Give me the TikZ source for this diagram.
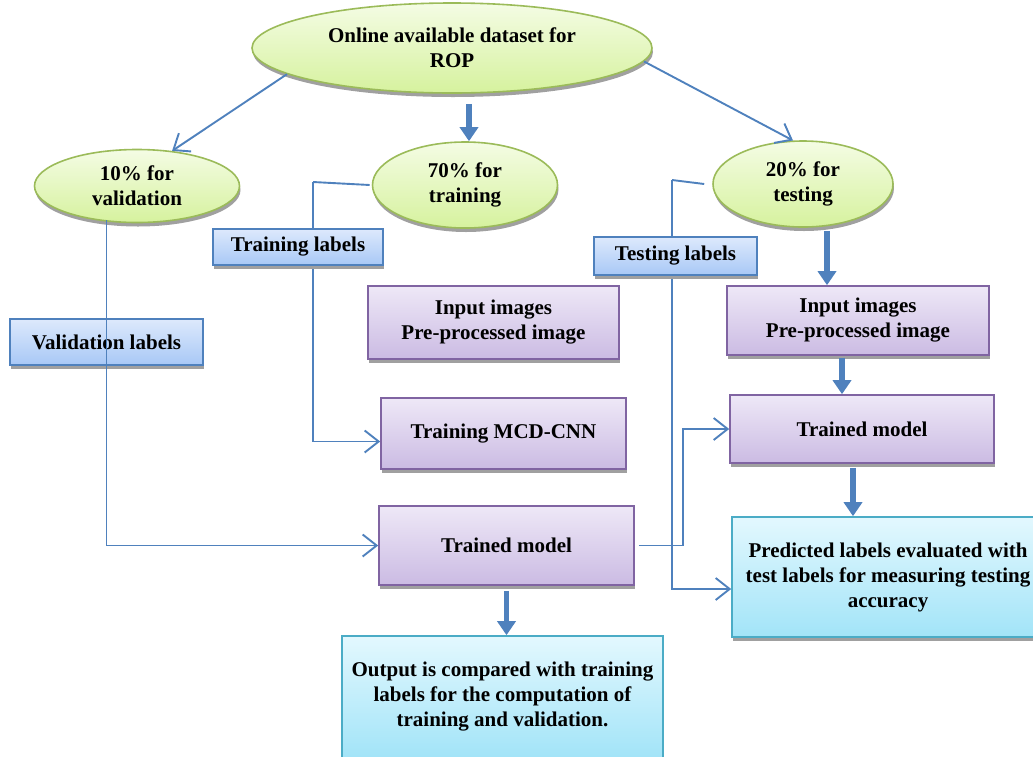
\documentclass[tikz,border=0pt]{standalone}
\usepackage{fontspec}
\setmainfont{Liberation Serif}
\usetikzlibrary{positioning,shapes.geometric,shadows,arrows.meta,backgrounds}
\definecolor{lineblue}{HTML}{4F81BD}
\definecolor{ovalline}{HTML}{9BBB59}
\definecolor{ovaltop}{HTML}{F4FCE4}
\definecolor{ovalbot}{HTML}{D6F29E}
\definecolor{purpline}{HTML}{8064A2}
\definecolor{purptop}{HTML}{EEE8F7}
\definecolor{purpbot}{HTML}{CBBBE3}
\definecolor{labtop}{HTML}{DDE9FC}
\definecolor{labbot}{HTML}{A8C8F6}
\definecolor{cyanline}{HTML}{4BACC6}
\definecolor{cyantop}{HTML}{E3F8FE}
\definecolor{cyanbot}{HTML}{A2E4F8}
\definecolor{shadowgray}{HTML}{A0A0A0}
\tikzset{
  every node/.style={font=\fontsize{21}{25}\selectfont\bfseries, align=center, inner sep=0pt},
  myshadow/.style={drop shadow={shadow xshift=1pt, shadow yshift=-4pt, fill=shadowgray, opacity=1}},
  oval/.style={ellipse, draw=ovalline, line width=1.6pt, top color=ovaltop, bottom color=ovalbot, myshadow},
  stepbox/.style={rectangle, draw=purpline, line width=1.6pt, top color=purptop, bottom color=purpbot, myshadow},
  labbox/.style={rectangle, draw=lineblue, line width=1.6pt, top color=labtop, bottom color=labbot, myshadow},
  outbox/.style={rectangle, draw=cyanline, line width=1.6pt, top color=cyantop, bottom color=cyanbot, myshadow},
  thin/.style={draw=lineblue, line width=1.9pt, -{Straight Barb[length=14pt,width=22pt]}},
  wire/.style={draw=lineblue, line width=1.9pt},
  fat/.style={draw=lineblue, line width=5.5pt, -{Triangle[length=14pt,width=18pt]}}
}

\begin{document}
\begin{tikzpicture}[x=1pt,y=-1pt]

  \useasboundingbox (0,0) rectangle (1033,756);

  \node[oval, minimum width=400pt, minimum height=90pt] (Top) at (452,48) {Online available dataset for\\ROP};
  \node[oval, minimum width=205pt, minimum height=73pt] (E10) at (137,186) {10\% for\\validation};
  \node[oval, minimum width=185pt, minimum height=86pt] (E70) at (465,185) {70\% for\\training};
  \node[oval, minimum width=180pt, minimum height=86pt] (E20) at (803,184) {20\% for\\testing};

  \node[labbox, minimum width=170pt, minimum height=36pt] (TrainLab) at (298,247) {Training labels};
  \node[labbox, minimum width=193pt, minimum height=46pt] (ValLab) at (106.5,342) {Validation labels};
  \node[labbox, minimum width=163pt, minimum height=38pt] (TestLab) at (675.5,256) {Testing labels};

  \node[stepbox, minimum width=251pt, minimum height=73pt] (InL) at (493.5,322.5) {Input images\\Pre-processed image};
  \node[stepbox, minimum width=245pt, minimum height=71pt] (MCD) at (503.5,433.5) {Training MCD-CNN};
  \node[stepbox, minimum width=255pt, minimum height=79pt] (TMl) at (506.5,545.5) {Trained model};
  \node[outbox, minimum width=321pt, minimum height=122pt] (Out) at (502.5,697) {Output is compared with training\\labels for the computation of\\training and validation.};

  \node[stepbox, minimum width=262pt, minimum height=69pt] (InR) at (858,320.5) {Input images\\Pre-processed image};
  \node[stepbox, minimum width=264pt, minimum height=68pt] (TMr) at (862,429) {Trained model};
  \node[outbox, minimum width=312pt, minimum height=120pt] (Pred) at (888,577) {Predicted labels evaluated with\\test labels for measuring testing\\accuracy};

  \coordinate (c70) at (313,182);
  \coordinate (c20) at (672,180);

  \begin{pgfonlayer}{background}
    \draw[wire] ([xshift=-2pt]E70.west) -- (c70);
    \draw[thin] (c70) |- ([yshift=-8pt]MCD.west);
    \draw[wire] ([xshift=-8pt]E20.west) -- (c20);
    \draw[thin] (c20) |- ([yshift=-12pt]Pred.west);
  \end{pgfonlayer}

  \draw[thin] (Top.189) -- (E10.45);
  \draw[thin] (Top.-4) -- (E20.103);
  \draw[fat] ([xshift=4pt,yshift=-10pt]Top.south -| E70.north) -- ([xshift=4pt]E70.north);

  \draw[thin] ([yshift=3pt]ValLab.north |- E10.south) |- (TMl.west);
  \draw[thin] ([xshift=4pt]TMl.east) -- ++(44,0) |- (TMr.west);

  \draw[fat] ([yshift=-5pt]TMl.south) -- (TMl.south |- Out.north);
  \draw[fat] ([xshift=24pt,yshift=-3pt]E20.south) -- ([xshift=24pt]E20.south |- InR.north);
  \draw[fat] ([xshift=-16pt,yshift=-2pt]InR.south) -- ([xshift=-16pt]InR.south |- TMr.north);
  \draw[fat] ([xshift=-9pt,yshift=-4pt]TMr.south) -- ([xshift=-9pt]TMr.south |- Pred.north);

\end{tikzpicture}
\end{document}
